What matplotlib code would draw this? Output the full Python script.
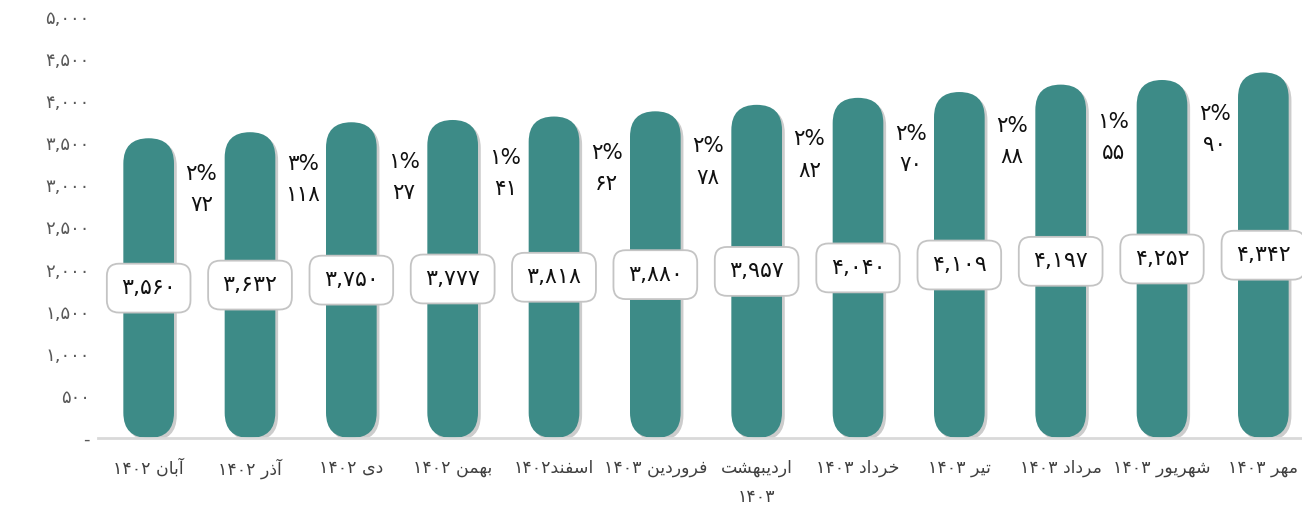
import numpy as np
import matplotlib
matplotlib.use('Agg')
import matplotlib.pyplot as plt
import matplotlib.patheffects as pe
from matplotlib.patches import FancyBboxPatch
from matplotlib.ticker import FuncFormatter

# ---- data ----
months = ['آبان ۱۴۰۲', 'آذر ۱۴۰۲', 'دی ۱۴۰۲', 'بهمن ۱۴۰۲', 'اسفند۱۴۰۲', 'فروردین ۱۴۰۳',
          'اردیبهشت\n۱۴۰۳', 'خرداد ۱۴۰۳', 'تیر ۱۴۰۳', 'مرداد ۱۴۰۳', 'شهریور ۱۴۰۳', 'مهر ۱۴۰۳']
values = [3560, 3632, 3750, 3777, 3818, 3880, 3957, 4040, 4109, 4197, 4252, 4342]
growth_pct = [2, 3, 1, 1, 2, 2, 2, 2, 2, 1, 2]        # from the 2nd bar on
growth_abs = [72, 118, 27, 41, 62, 78, 82, 70, 88, 55, 90]

BAR = '#3d8b87'
FA_DIGITS = str.maketrans('0123456789', '۰۱۲۳۴۵۶۷۸۹')

# presentation forms: isolated, final, initial, medial (None -> joins on right only)
FORMS = {
    'ا': ('\uFE8D', '\uFE8E', None, None),
    'آ': ('\uFE81', '\uFE82', None, None),
    'د': ('\uFEA9', '\uFEAA', None, None),
    'ذ': ('\uFEAB', '\uFEAC', None, None),
    'ر': ('\uFEAD', '\uFEAE', None, None),
    'ز': ('\uFEAF', '\uFEB0', None, None),
    'و': ('\uFEED', '\uFEEE', None, None),
    'ب': ('\uFE8F', '\uFE90', '\uFE91', '\uFE92'),
    'ت': ('\uFE95', '\uFE96', '\uFE97', '\uFE98'),
    'خ': ('\uFEA5', '\uFEA6', '\uFEA7', '\uFEA8'),
    'س': ('\uFEB1', '\uFEB2', '\uFEB3', '\uFEB4'),
    'ش': ('\uFEB5', '\uFEB6', '\uFEB7', '\uFEB8'),
    'ف': ('\uFED1', '\uFED2', '\uFED3', '\uFED4'),
    'م': ('\uFEE1', '\uFEE2', '\uFEE3', '\uFEE4'),
    'ن': ('\uFEE5', '\uFEE6', '\uFEE7', '\uFEE8'),
    'ه': ('\uFEE9', '\uFEEA', '\uFEEB', '\uFEEC'),
    'ی': ('\uFEEF', '\uFEF0', '\uFEF3', '\uFEF4'),
}


def shape_word(word):
    '''joins the letters of one persian word and returns it in visual order'''
    out = []
    for i, ch in enumerate(word):
        if ch not in FORMS:
            out.append(ch)
            continue
        prev = word[i - 1] if i > 0 else None
        nxt = word[i + 1] if i + 1 < len(word) else None
        join_prev = prev in FORMS and FORMS[prev][2] is not None
        join_next = nxt in FORMS and FORMS[ch][2] is not None
        iso, fin, ini, med = FORMS[ch]
        if join_prev and join_next:
            out.append(med)
        elif join_prev:
            out.append(fin)
        elif join_next:
            out.append(ini)
        else:
            out.append(iso)
    return ''.join(reversed(out))


def visual(text):
    '''very small bidi: digit runs stay LTR, letter runs get shaped, run order reversed'''
    lines = []
    for line in text.split('\n'):
        runs, cur, cur_digit = [], '', None
        for ch in line:
            is_digit = ch in '۰۱۲۳۴۵۶۷۸۹0123456789,%'
            if ch == ' ':
                if cur:
                    runs.append((cur, cur_digit))
                runs.append((' ', None))
                cur, cur_digit = '', None
                continue
            if cur and is_digit != cur_digit:
                runs.append((cur, cur_digit))
                cur = ''
            cur += ch
            cur_digit = is_digit
        if cur:
            runs.append((cur, cur_digit))
        parts = [r if d or r == ' ' else shape_word(r) for r, d in runs]
        lines.append(''.join(reversed(parts)))
    return '\n'.join(lines)


def fa_num(v):
    return f'{int(v):,}'.translate(FA_DIGITS)


fig = plt.figure(figsize=(13.02, 5.08), dpi=100)
ax = fig.add_axes([98 / 1302, 1 - 438 / 508, 1216 / 1302, 421 / 508])
x = np.arange(len(values))
ax.set_xlim(-0.5, len(values) - 0.5)
ax.set_ylim(0, 5000)

# pill-shaped bars built from the regular bar rectangles
bars = ax.bar(x, values, width=0.5, color=BAR)
aspect = (5000 / 421) / (len(values) / 1216)
for r in bars:
    bx, by, bw, bh = r.get_x(), r.get_y(), r.get_width(), r.get_height()
    pill = FancyBboxPatch((bx, by), bw, bh,
                          boxstyle=f'round,pad=0,rounding_size={bw / 2}',
                          mutation_aspect=aspect, facecolor=BAR, edgecolor='none',
                          zorder=2)
    pill.set_path_effects([pe.SimplePatchShadow(offset=(2, -2), shadow_rgbFace='#000000', alpha=0.2),
                           pe.Normal()])
    ax.add_patch(pill)
    r.remove()

# value boxes in the middle of each bar
for i, v in enumerate(values):
    ax.text(i, v / 2, fa_num(v), ha='center', va='center', fontsize=16, color='#111111',
            zorder=4,
            bbox=dict(boxstyle='round,pad=0.65,rounding_size=0.55', facecolor='white',
                      edgecolor='#c4c4c4', lw=1.3))

# growth labels to the left of each bar from the second on
for i, (p, d) in enumerate(zip(growth_pct, growth_abs), start=1):
    ax.text(i - 0.48, values[i] - 680, f'{p}'.translate(FA_DIGITS) + '%\n' + fa_num(d),
            ha='center', va='center', fontsize=15.5, color='#111111', linespacing=1.7, zorder=4)

ax.set_xticks(x)
ax.set_xticklabels([visual(m) for m in months], fontsize=12.5, color='#404040')
for t in ax.get_xticklabels():
    t.set_linespacing(1.8)
ax.set_yticks(np.arange(0, 5001, 500))
ax.yaxis.set_major_formatter(FuncFormatter(lambda v, _: '-' if v == 0 else fa_num(v)))
ax.tick_params(axis='y', length=0, pad=6, labelsize=13, labelcolor='#595959')
ax.tick_params(axis='x', length=0, pad=15)

for side in ['top', 'right', 'left']:
    ax.spines[side].set_visible(False)
ax.spines['bottom'].set_color('#d9d9d9')
ax.spines['bottom'].set_linewidth(2)

fig.savefig('out.png', dpi=100)
